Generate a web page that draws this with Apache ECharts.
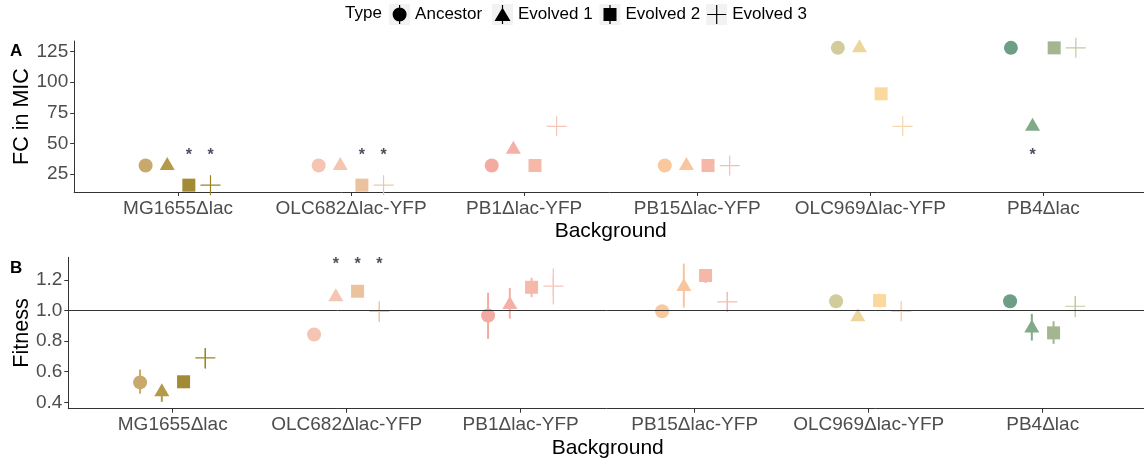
<!DOCTYPE html>
<html>
<head>
<meta charset="utf-8">
<title>MIC fold change and fitness by background</title>
<script src="https://cdn.jsdelivr.net/npm/echarts@6/dist/echarts.min.js"></script>
<style>
  html, body { margin: 0; padding: 0; background: #ffffff; }
  #chart { width: 1144px; height: 461px; }
</style>
</head>
<body>
<div id="chart"></div>
<script>
// ---- data -------------------------------------------------------------
const backgrounds = ['MG1655Δlac', 'OLC682Δlac-YFP', 'PB1Δlac-YFP', 'PB15Δlac-YFP', 'OLC969Δlac-YFP', 'PB4Δlac'];
const types = ['Ancestor', 'Evolved 1', 'Evolved 2', 'Evolved 3'];

// Panel A: fold change in MIC
const fcTicks = [25, 50, 75, 100, 125];
const fcAncestor = [32, 32, 32, 32, 128, 128];
const fcEvolved1 = [32, 32, 45.25, 32, 128, 64];
const fcEvolved2 = [16, 16, 32, 32, 90.5, 128];
const fcEvolved3 = [16, 16, 64, 32, 64, 128];
// significant differences: [background index, type index]
const fcSignif = [[0, 2], [0, 3], [1, 2], [1, 3], [5, 1]];
const fcSignifLevel = 40;

// Panel B: relative fitness (mean with lower / upper bound)
const fitTicks = [0.4, 0.6, 0.8, 1.0, 1.2];
const fitAncestor = [0.53, 0.843, 0.967, 0.995, 1.061, 1.061];
const fitAncestorLo = [0.456, 0.83, 0.815, 0.98, 1.05, 1.05];
const fitAncestorHi = [0.614, 0.856, 1.116, 1.01, 1.072, 1.072];
const fitEvolved1 = [0.469, 1.09, 1.04, 1.157, 0.96, 0.886];
const fitEvolved1Lo = [0.403, 1.07, 0.946, 1.02, 0.95, 0.804];
const fitEvolved1Hi = [0.50, 1.11, 1.148, 1.307, 0.97, 0.978];
const fitEvolved2 = [0.534, 1.126, 1.152, 1.229, 1.065, 0.854];
const fitEvolved2Lo = [0.515, 1.11, 1.087, 1.18, 1.02, 0.782];
const fitEvolved2Hi = [0.55, 1.14, 1.214, 1.27, 1.11, 0.93];
const fitEvolved3 = [0.69, 0.995, 1.159, 1.057, 0.995, 1.028];
const fitEvolved3Lo = [0.62, 0.924, 1.04, 0.99, 0.93, 0.956];
const fitEvolved3Hi = [0.752, 1.057, 1.275, 1.12, 1.06, 1.094];
const fitSignif = [[1, 1], [1, 2], [1, 3]];
const fitSignifLevel = 1.3;
const fitReference = 1.0;

// ---- styling ----------------------------------------------------------
const FONT = "'Liberation Sans', Arial, Helvetica, sans-serif";
// colour of each point: one row per type, one column per background
const palette = [
  ['#c9a96b', '#f5c4b3', '#f4a9a1', '#fac89d', '#d2cb9b', '#6e9f86'],
  ['#b49a48', '#f5c5b1', '#f4b0a6', '#f9c4a0', '#edd69c', '#82aa88'],
  ['#a38a35', '#eac39e', '#f5b9aa', '#f5b7a8', '#fbd89d', '#a3b690'],
  ['#9a8620', '#ebc9a6', '#f8c5b9', '#f6bdb2', '#f9d5ad', '#c5c9a0']
];
const dodge = [-0.1875, -0.0625, 0.0625, 0.1875];
const plusPath = 'path://M0,9.4H20V10.6H0ZM9.4,0H10.6V20H9.4Z';
const markerSymbol = ['circle', 'triangle', 'rect', plusPath];
const markerSize = [14, [15, 13], 13, 20];
const markerOffset = [[0, 0], [0, -2], [0, 0], [0, 0]];

// legend keys: symbol plus its error-bar stroke, centred in a 21 x 19 box
// (the zero-area end points pin the box width so the glyph stays centred)
const keyFrame = 'M0,0L0,0.01ZM21,0L21,0.01Z';
const legendIcon = [
  'path://' + keyFrame + 'M3.5,9.5A7,7 0 1,1 17.5,9.5A7,7 0 1,1 3.5,9.5ZM9.9,0H11.1V19H9.9Z',
  'path://' + keyFrame + 'M10.5,2.5L18.5,16H2.5ZM9.9,0H11.1V19H9.9Z',
  'path://' + keyFrame + 'M4,3H17V16H4ZM9.9,0H11.1V19H9.9Z',
  'path://' + keyFrame + 'M1,8.9H20V10.1H1ZM9.9,0H11.1V19H9.9Z'
];
const legendKey = 21;
const legendIconHeight = 19;
const legendCenters = [399.6, 502.5, 610, 716.7];
const legendMid = 14.5;
const legendFontSize = 17;

const fcSeries = [fcAncestor, fcEvolved1, fcEvolved2, fcEvolved3];
const fitSeries = [fitAncestor, fitEvolved1, fitEvolved2, fitEvolved3];
const fitLo = [fitAncestorLo, fitEvolved1Lo, fitEvolved2Lo, fitEvolved3Lo];
const fitHi = [fitAncestorHi, fitEvolved1Hi, fitEvolved2Hi, fitEvolved3Hi];

const catPositions = backgrounds.map((b, i) => i + 1);

function xAxisFor(gridIndex) {
  return {
    gridIndex: gridIndex,
    type: 'value',
    min: 0.4,
    max: 6.6,
    name: 'Background',
    nameLocation: 'middle',
    nameGap: 29,
    nameMoveOverlap: false,
    nameTextStyle: { color: '#000000', fontSize: 21, fontFamily: FONT },
    axisLine: { show: true, onZero: false, lineStyle: { color: '#333333', width: 1 } },
    axisTick: { show: true, customValues: catPositions, length: 4, lineStyle: { color: '#333333' } },
    axisLabel: {
      customValues: catPositions,
      formatter: v => backgrounds[Math.round(v) - 1],
      color: '#4d4d4d', fontSize: 19, fontFamily: FONT, margin: 7
    },
    splitLine: { show: false }
  };
}

function yAxisFor(gridIndex, min, max, ticks, name, nameGap, fmt) {
  return {
    gridIndex: gridIndex,
    type: 'value',
    min: min,
    max: max,
    name: name,
    nameLocation: 'middle',
    nameGap: nameGap,
    nameMoveOverlap: false,
    nameTextStyle: { color: '#000000', fontSize: 21.5, fontFamily: FONT },
    axisLine: { show: true, onZero: false, lineStyle: { color: '#333333', width: 1 } },
    axisTick: { show: true, customValues: ticks, length: 4, lineStyle: { color: '#333333' } },
    axisLabel: {
      customValues: ticks, formatter: fmt,
      color: '#4d4d4d', fontSize: 19, fontFamily: FONT, margin: 6
    },
    splitLine: { show: false }
  };
}

const series = [];

// Panel A points
types.forEach((t, k) => {
  series.push({
    name: t,
    type: 'scatter',
    xAxisIndex: 0, yAxisIndex: 0,
    symbol: markerSymbol[k],
    symbolSize: markerSize[k],
    symbolOffset: markerOffset[k],
    itemStyle: { color: '#000000', opacity: 1 },
    z: 3,
    data: fcSeries[k].map((v, i) => ({
      value: [i + 1 + dodge[k], v],
      itemStyle: { color: palette[k][i] }
    }))
  });
});

const starLabel = {
  show: true, position: 'inside', formatter: '*',
  color: '#1b2233', fontSize: 16, fontWeight: 'bold', fontFamily: FONT
};

// Panel A significance marks
series.push({
  type: 'scatter', xAxisIndex: 0, yAxisIndex: 0,
  symbolSize: 0, silent: true, z: 4,
  label: starLabel,
  data: fcSignif.map(s => [s[0] + 1 + dodge[s[1]], fcSignifLevel])
});

// Panel B error bars
const errData = [];
types.forEach((t, k) => {
  backgrounds.forEach((b, i) => {
    errData.push([i + 1 + dodge[k], fitLo[k][i], fitHi[k][i], k, i]);
  });
});
series.push({
  type: 'custom', xAxisIndex: 1, yAxisIndex: 1, silent: true, z: 2,
  data: errData,
  renderItem: function (params, api) {
    const k = api.value(3), i = api.value(4);
    const p0 = api.coord([api.value(0), api.value(1)]);
    const p1 = api.coord([api.value(0), api.value(2)]);
    return {
      type: 'line',
      shape: { x1: p0[0], y1: p0[1], x2: p1[0], y2: p1[1] },
      style: { stroke: palette[k][i], lineWidth: k === 3 ? 1.4 : 2 }
    };
  }
});

// Panel B points
types.forEach((t, k) => {
  series.push({
    name: t,
    type: 'scatter',
    xAxisIndex: 1, yAxisIndex: 1,
    symbol: markerSymbol[k],
    symbolSize: markerSize[k],
    symbolOffset: markerOffset[k],
    itemStyle: { color: '#000000', opacity: 1 },
    z: 3,
    data: fitSeries[k].map((v, i) => ({
      value: [i + 1 + dodge[k], v],
      itemStyle: { color: palette[k][i] }
    })),
    markLine: k === 0 ? {
      silent: true, symbol: ['none', 'none'], label: { show: false },
      lineStyle: { color: '#333333', width: 1, type: 'solid' },
      data: [{ yAxis: fitReference }]
    } : undefined
  });
});

// Panel B significance marks
series.push({
  type: 'scatter', xAxisIndex: 1, yAxisIndex: 1,
  symbolSize: 0, silent: true, z: 4,
  label: starLabel,
  data: fitSignif.map(s => [s[0] + 1 + dodge[s[1]], fitSignifLevel])
});

// one legend block per type so every key sits in its own grey box
const legends = types.map((t, k) => ({
  show: true,
  orient: 'horizontal',
  left: legendCenters[k] - legendKey / 2,
  top: legendMid - legendIconHeight / 2,
  padding: 0,
  itemWidth: legendKey,
  itemHeight: legendIconHeight,
  itemGap: 0,
  selectedMode: false,
  itemStyle: { color: '#000000' },
  textStyle: { color: '#000000', fontSize: legendFontSize, fontFamily: FONT },
  data: [{ name: t, icon: legendIcon[k] }]
}));

const keyBoxes = legendCenters.map(c => ({
  type: 'rect', silent: true, z: -1,
  shape: { x: c - legendKey / 2, y: legendMid - legendKey / 2, width: legendKey, height: legendKey },
  style: { fill: '#f2f2f2' }
}));

const chart = echarts.init(document.getElementById('chart'), null, { renderer: 'canvas' });
chart.setOption({
  animation: false,
  backgroundColor: '#ffffff',
  textStyle: { fontFamily: FONT },
  grid: [
    { left: 74.2, top: 41, width: 1073, height: 151, containLabel: false, outerBoundsMode: 'none' },
    { left: 68.3, top: 257.3, width: 1078.8, height: 151.4, containLabel: false, outerBoundsMode: 'none' }
  ],
  xAxis: [xAxisFor(0), xAxisFor(1)],
  yAxis: [
    yAxisFor(0, 10.4, 133.6, fcTicks, 'FC in MIC', 41, v => String(v)),
    yAxisFor(1, 0.358, 1.348, fitTicks, 'Fitness', 35, v => v.toFixed(1))
  ],
  legend: legends,
  graphic: keyBoxes.concat([
    { type: 'text', left: 345, top: legendMid - 10, silent: true,
      style: { text: 'Type', fill: '#000000', fontSize: legendFontSize, fontFamily: FONT } },
    { type: 'text', left: 10, top: 43, silent: true,
      style: { text: 'A', fill: '#000000', fontSize: 17, fontWeight: 'bold', fontFamily: FONT } },
    { type: 'text', left: 10, top: 260, silent: true,
      style: { text: 'B', fill: '#000000', fontSize: 17, fontWeight: 'bold', fontFamily: FONT } }
  ]),
  series: series
});
</script>
</body>
</html>
